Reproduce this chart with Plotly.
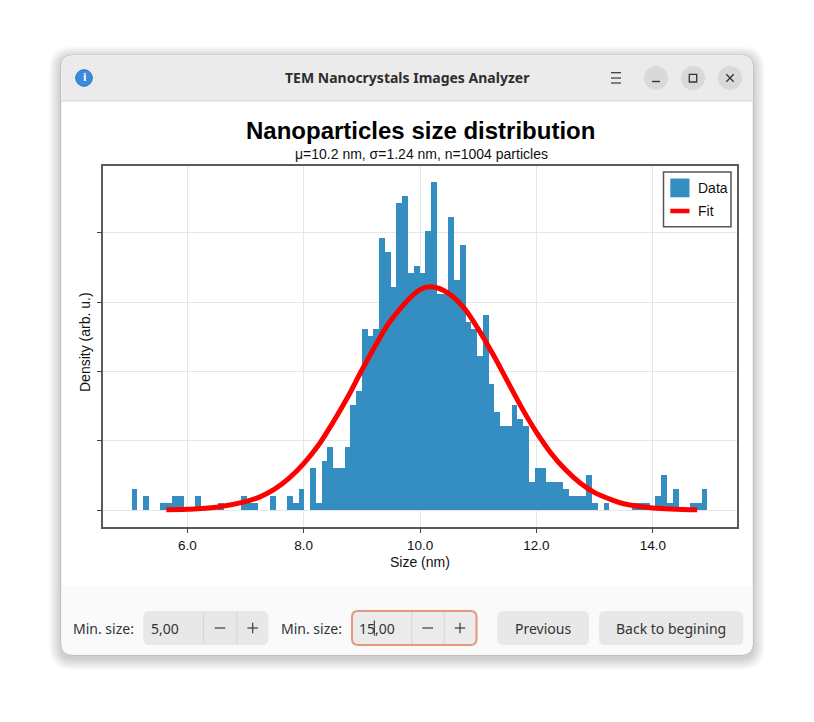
import numpy as np
import plotly.graph_objects as go

W, H = 814, 722

# histogram of particle sizes (counts per bin)
n_particles = 1004
bin_start = 5.05
bin_width = 0.0989
counts = [3, 0, 2, 0, 0, 1, 1, 2, 2, 0,
          0, 2, 0, 0, 0, 1, 0, 0, 0, 2,
          1, 1, 0, 0, 2, 0, 0, 2, 1, 3,
          0, 6, 1, 7, 9, 6, 6, 9, 15, 17,
          26, 25, 26, 39, 37, 32, 44, 45, 34, 35,
          34, 40, 47, 31, 31, 42, 33, 38, 27, 26,
          22, 28, 18, 14, 12, 12, 15, 13, 12, 4,
          6, 6, 4, 4, 4, 3, 2, 2, 2, 5,
          1, 0, 1, 0, 0, 0, 0, 1, 1, 1,
          0, 2, 5, 1, 3, 0, 0, 1, 1, 3]

# gaussian fit curve (density)
fit_x = [5.64, 6.0, 6.5, 7.0, 7.25, 7.5, 7.75, 8.0, 8.25, 8.5, 8.75, 9.0, 9.25, 9.5,
         10.0, 10.2, 10.5, 10.75, 11.0, 11.25, 11.5, 11.75, 12.0, 12.25, 12.5,
         12.75, 13.0, 13.25, 13.5, 14.0, 14.76]
fit_y = [0.0004, 0.001, 0.004, 0.012, 0.019, 0.030, 0.046, 0.067, 0.093, 0.126, 0.162,
         0.202, 0.240, 0.274, 0.318, 0.322, 0.312, 0.292, 0.261, 0.225, 0.186, 0.147,
         0.112, 0.082, 0.058, 0.039, 0.025, 0.016, 0.009, 0.003, 0.0004]

x_ticks = [6, 8, 10, 12, 14]
y_ticks = [0, 0.1, 0.2, 0.3, 0.4]

title = "Nanoparticles size distribution"
subtitle = "μ=10.2 nm, σ=1.24 nm, n=1004 particles"
win_title = "TEM Nanocrystals Images Analyzer"
bar_color = "rgb(52,142,194)"

centers = bin_start + bin_width * (np.arange(len(counts)) + 0.5)
density = np.array(counts) / (n_particles * bin_width)


def fx(x):
    return x / W


def fy(y):
    return 1 - y / H


def rrect(x0, y0, x1, y1, r, top=True, bottom=True):
    rt = r if top else 0
    rb = r if bottom else 0
    pts = [("M", [(x0 + rt, y0)]), ("L", [(x1 - rt, y0)]), ("Q", [(x1, y0), (x1, y0 + rt)]),
           ("L", [(x1, y1 - rb)]), ("Q", [(x1, y1), (x1 - rb, y1)]), ("L", [(x0 + rb, y1)]),
           ("Q", [(x0, y1), (x0, y1 - rb)]), ("L", [(x0, y0 + rt)]), ("Q", [(x0, y0), (x0 + rt, y0)])]
    s = ""
    for cmd, pp in pts:
        s += cmd + " ".join("%.5f,%.5f" % (fx(a), fy(b)) for a, b in pp) + " "
    return s + "Z"


def line(x0, y0, x1, y1, color="#333", width=1.3, layer="below"):
    return dict(type="line", x0=fx(x0), x1=fx(x1), y0=fy(y0), y1=fy(y1), xref="paper", yref="paper",
                line=dict(color=color, width=width), layer=layer)


shapes = []
# window shadow
for k in range(1, 13):
    shapes.append(dict(type="path", path=rrect(61 - k, 55 - k + 3, 753 + k, 655 + k + 3, 12 + k),
                       xref="paper", yref="paper", fillcolor="rgba(0,0,0,0.014)", line_width=0, layer="below"))
# window body
shapes.append(dict(type="path", path=rrect(61, 55, 753, 655, 12), xref="paper", yref="paper",
                   fillcolor="white", line=dict(color="rgba(0,0,0,0.12)", width=1), layer="below"))
shapes.append(dict(type="path", path=rrect(61.5, 55.5, 752.5, 101, 12, bottom=False), xref="paper", yref="paper",
                   fillcolor="#ebebeb", line_width=0, layer="below"))
shapes.append(line(61.5, 101, 752.5, 101, "#d4d4d4", 1))
shapes.append(dict(type="path", path=rrect(61.5, 585.5, 752.5, 654.5, 12, top=False), xref="paper", yref="paper",
                   fillcolor="#fafafa", line_width=0, layer="below"))

# title bar icons
shapes.append(dict(type="circle", x0=fx(75.7), x1=fx(92.3), y0=fy(69.7), y1=fy(86.3), xref="paper", yref="paper",
                   fillcolor="#3a8be0", line=dict(color="#2a6fc0", width=1), layer="below"))
for yy in [72.7, 78, 83]:
    shapes.append(line(611, yy, 621, yy, "#333", 1.2))
for cx in [656, 693, 730]:
    shapes.append(dict(type="circle", x0=fx(cx - 12), x1=fx(cx + 12), y0=fy(66), y1=fy(90), xref="paper",
                       yref="paper", fillcolor="#d9d9d9", line_width=0, layer="below"))
shapes.append(line(652, 81.5, 660, 81.5, "#333", 1.4))
shapes.append(dict(type="rect", x0=fx(689.3), x1=fx(696.7), y0=fy(74.3), y1=fy(82), xref="paper", yref="paper",
                   line=dict(color="#333", width=1.3), layer="below"))
shapes.append(line(726.3, 74.3, 733.7, 81.7))
shapes.append(line(726.3, 81.7, 733.7, 74.3))

# bottom controls
shapes.append(dict(type="path", path=rrect(143.3, 611, 268.3, 645, 6), xref="paper", yref="paper",
                   fillcolor="#e8e8e8", line_width=0, layer="below"))
shapes.append(dict(type="path", path=rrect(352, 611, 476.5, 645, 6), xref="paper", yref="paper",
                   fillcolor="#ebebeb", line=dict(color="#e5977e", width=2), layer="below"))
for xx in [203.5, 236.8, 411.7, 444.3]:
    shapes.append(line(xx, 612, xx, 644, "#d6d6d6", 1))
for cx in [220, 252.7, 427.7, 460]:
    shapes.append(line(cx - 5.3, 628, cx + 5.3, 628, "#3a3a3a", 1.2))
for cx in [252.7, 460]:
    shapes.append(line(cx, 622.7, cx, 633.3, "#3a3a3a", 1.2))
shapes.append(line(374.3, 620.5, 374.3, 635.5, "#222", 1))
shapes.append(dict(type="path", path=rrect(497.3, 611, 589, 645, 6), xref="paper", yref="paper",
                   fillcolor="#e8e8e8", line_width=0, layer="below"))
shapes.append(dict(type="path", path=rrect(599, 611, 743.3, 645, 6), xref="paper", yref="paper",
                   fillcolor="#e8e8e8", line_width=0, layer="below"))

# legend box (drawn by hand to get matplotlib-sized handles)
shapes.append(dict(type="rect", x0=fx(663.5), x1=fx(731), y0=fy(172), y1=fy(226.7), xref="paper", yref="paper",
                   fillcolor="white", line=dict(color="#555", width=1.5), layer="above"))
shapes.append(dict(type="rect", x0=fx(670.3), x1=fx(689.5), y0=fy(178.5), y1=fy(197.3), xref="paper",
                   yref="paper", fillcolor=bar_color, line_width=0, layer="above"))
shapes.append(line(670.3, 211, 689.5, 211, "red", 4.5, "above"))

ui_font = "Noto Sans"
annotations = [
    dict(text="<b>" + win_title + "</b>", x=fx(407), y=fy(78), font=dict(family=ui_font, size=14, color="#2e2e2e")),
    dict(text="<b>i</b>", x=fx(84), y=fy(78), font=dict(family="DejaVu Sans", size=10, color="white")),
    dict(text="Min. size:", x=fx(71), y=fy(628), xanchor="left", font=dict(family=ui_font, size=14, color="#333")),
    dict(text="5,00", x=fx(148.5), y=fy(628), xanchor="left", font=dict(family=ui_font, size=14, color="#333")),
    dict(text="Min. size:", x=fx(279), y=fy(628), xanchor="left", font=dict(family=ui_font, size=14, color="#333")),
    dict(text="15,00", x=fx(356.5), y=fy(628), xanchor="left", font=dict(family=ui_font, size=14, color="#333")),
    dict(text="Previous", x=fx(543), y=fy(628), font=dict(family=ui_font, size=14, color="#333")),
    dict(text="Back to begining", x=fx(671), y=fy(628), font=dict(family=ui_font, size=14, color="#333")),
    # chart texts
    dict(text="<b>" + title + "</b>", x=fx(420), y=fy(131), font=dict(family="Liberation Sans", size=24, color="black")),
    dict(text=subtitle, x=fx(421), y=fy(154), font=dict(family="Liberation Sans", size=14, color="#111")),
    dict(text="Size (nm)", x=fx(420), y=fy(562), font=dict(family="Liberation Sans", size=14, color="#111")),
    dict(text="Density (arb. u.)", x=fx(85), y=fy(342), textangle=-90,
         font=dict(family="Liberation Sans", size=14, color="#111")),
    dict(text="Data", x=fx(695.5), y=fy(188), xanchor="left", font=dict(family="Liberation Sans", size=14, color="#111")),
    dict(text="Fit", x=fx(695.5), y=fy(211), xanchor="left", font=dict(family="Liberation Sans", size=14, color="#111")),
]
for a in annotations:
    a.update(xref="paper", yref="paper", showarrow=False)
    a.setdefault("xanchor", "center")
    a.setdefault("yanchor", "middle")

fig = go.Figure()
fig.add_trace(go.Bar(x=centers, y=density, width=bin_width, name="Data",
                     marker=dict(color=bar_color, line_width=0)))
fig.add_trace(go.Scatter(x=fit_x, y=fit_y, mode="lines", name="Fit",
                         line=dict(color="red", width=5, shape="spline")))

fig.update_layout(
    width=W, height=H,
    margin=dict(l=0, r=0, t=0, b=0),
    paper_bgcolor="white", plot_bgcolor="white",
    bargap=0,
    shapes=shapes,
    annotations=annotations,
    showlegend=False,
    xaxis=dict(domain=[fx(103.3), fx(736.7)], range=[4.557, 15.44],
               tickvals=x_ticks, tickformat=".1f", ticks="outside", ticklen=5, tickcolor="#444",
               showgrid=True, gridcolor="#e6e6e6", gridwidth=1, zeroline=False,
               showline=True, mirror=True, linecolor="#5a5a5a", linewidth=1.5,
               tickfont=dict(family="Liberation Sans", size=13.5, color="#111")),
    yaxis=dict(domain=[fy(526.7), fy(166)], range=[-0.0241, 0.4964],
               tickvals=y_ticks, showticklabels=False, ticks="outside", ticklen=5, tickcolor="#444",
               showgrid=True, gridcolor="#e6e6e6", gridwidth=1, zeroline=False,
               showline=True, mirror=True, linecolor="#5a5a5a", linewidth=1.5),
)

fig.write_html("out.html", config={"displayModeBar": False},
               post_script="document.body.style.margin='0';")
